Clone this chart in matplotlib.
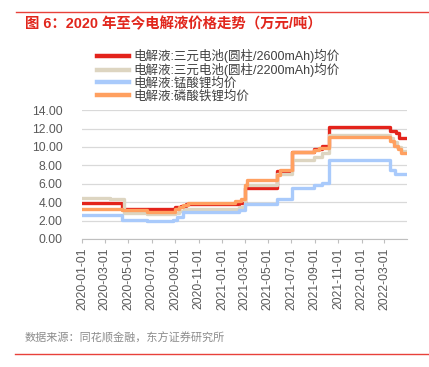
import matplotlib
matplotlib.use("Agg")
import matplotlib.pyplot as plt
import matplotlib.dates as mdates
import numpy as np
import pandas as pd

plt.rcParams['font.family'] = ['Liberation Sans', 'Noto Sans CJK SC', 'DejaVu Sans']

END = "2022-04-29"

# 三元电池(圆柱/2600mAh)
red_dates = ["2020-01-01", "2020-04-14", "2020-09-01", "2020-09-15", "2020-09-28",
             "2021-02-14", "2021-03-03", "2021-05-26", "2021-07-03", "2021-08-29",
             "2021-09-19", "2021-10-08", "2022-03-17", "2022-03-31", "2022-04-08", END]
red_vals = [3.85, 3.30, 3.45, 3.55, 3.75,
            3.95, 5.50, 7.40, 9.50, 9.75,
            10.15, 12.15, 11.70, 11.55, 11.00, 11.00]

# 三元电池(圆柱/2200mAh)
beige_dates = ["2020-01-01", "2020-03-15", "2020-04-19", "2020-06-19", "2020-09-01",
               "2020-09-10", "2020-09-25", "2021-02-14", "2021-03-03", "2021-05-26",
               "2021-07-03", "2021-08-29", "2021-09-19", "2021-10-08", "2022-03-17",
               "2022-03-24", "2022-04-03", "2022-04-15", END]
beige_vals = [4.50, 4.30, 2.85, 2.75, 2.85,
              3.05, 3.30, 3.50, 5.85, 7.10,
              8.60, 8.95, 9.30, 11.30, 11.00,
              10.50, 10.00, 9.60, 9.60]

# 锰酸锂
blue_dates = ["2020-01-01", "2020-04-14", "2020-06-19", "2020-08-25", "2020-09-05",
              "2020-09-20", "2021-02-14", "2021-03-03", "2021-05-26", "2021-07-03",
              "2021-08-29", "2021-09-19", "2021-10-08", "2022-03-17", "2022-03-29", END]
blue_vals = [2.55, 2.05, 1.95, 2.10, 2.40,
             2.90, 3.10, 3.75, 4.30, 5.50,
             5.85, 6.10, 8.55, 7.50, 7.05, 7.05]

# 磷酸铁锂
orange_dates = ["2020-01-01", "2020-04-14", "2020-06-19", "2020-09-01", "2020-09-10",
                "2020-09-20", "2020-10-05", "2021-02-05", "2021-02-20", "2021-03-03",
                "2021-03-08", "2021-05-26", "2021-06-03", "2021-07-03", "2021-08-29",
                "2021-09-12", "2021-10-08", "2022-03-17", "2022-03-27", "2022-04-06",
                "2022-04-15", END]
orange_vals = [3.30, 3.10, 2.95, 3.20, 3.45,
               3.65, 3.95, 4.10, 4.30, 5.90,
               6.45, 7.00, 7.45, 9.45, 9.70,
               9.85, 11.10, 10.60, 10.05, 9.75,
               9.35, 9.35]

labels = ["电解液:三元电池(圆柱/2600mAh)均价", "电解液:三元电池(圆柱/2200mAh)均价",
          "电解液:锰酸锂均价", "电解液:磷酸铁锂均价"]
colors = ["#E3231B", "#DDD5C1", "#A9CAFB", "#FFA060"]

fig = plt.figure(figsize=(4.29, 3.67), dpi=100)
ax = fig.add_axes([0.191, 0.349, 0.758, 0.351])

series = [(red_dates, red_vals), (beige_dates, beige_vals),
          (blue_dates, blue_vals), (orange_dates, orange_vals)]
for (d, v), lab, c in zip(series, labels, colors):
    ax.plot(pd.to_datetime(d), v, drawstyle="steps-post", color=c, lw=2.4, label=lab)

ax.set_ylim(0, 14)
ax.set_yticks(np.arange(0, 15, 2))
ax.set_yticklabels(["%.2f" % t for t in np.arange(0, 15, 2)])
ax.set_xlim(pd.Timestamp("2020-01-01"), pd.Timestamp("2022-04-30"))
ax.xaxis.set_major_locator(mdates.MonthLocator(bymonth=[1, 3, 5, 7, 9, 11]))
ax.xaxis.set_major_formatter(mdates.DateFormatter("%Y-%m-%d"))
ax.grid(axis="y", color="#D9D9D9", lw=0.9)
ax.set_axisbelow(True)
for s in ["top", "right", "left"]:
    ax.spines[s].set_visible(False)
ax.spines["bottom"].set_color("#BFBFBF")
ax.tick_params(axis="y", length=0, labelsize=8.7, labelcolor="#595959", pad=14)
ax.tick_params(axis="x", length=3, color="#BFBFBF", labelsize=8.7, labelcolor="#595959",
               rotation=90, pad=3)

leg = fig.legend(loc="upper left", bbox_to_anchor=(0.226, 0.866), frameon=False,
                 fontsize=9, handlelength=2.6, handletextpad=0.3, labelspacing=0.0,
                 borderpad=0, borderaxespad=0)
for t in leg.get_texts():
    t.set_color("#404040")
for l in leg.get_lines():
    l.set_linewidth(3.2)

fig.text(0.058, 0.935, "图 6：2020 年至今电解液价格走势（万元/吨）", color="#E1261C",
         fontsize=10.4, fontweight="bold", va="center", ha="left")
fig.text(0.058, 0.079, "数据来源：同花顺金融，东方证券研究所", color="#8C8C8C",
         fontsize=8, va="center", ha="left")

fig.add_artist(plt.Line2D([0.037, 1.0], [0.967, 0.967], color="#E8413A", lw=1.0))
fig.add_artist(plt.Line2D([0.035, 1.0], [0.035, 0.035], color="#E8413A", lw=1.0))

fig.savefig("out.png", dpi=100)
